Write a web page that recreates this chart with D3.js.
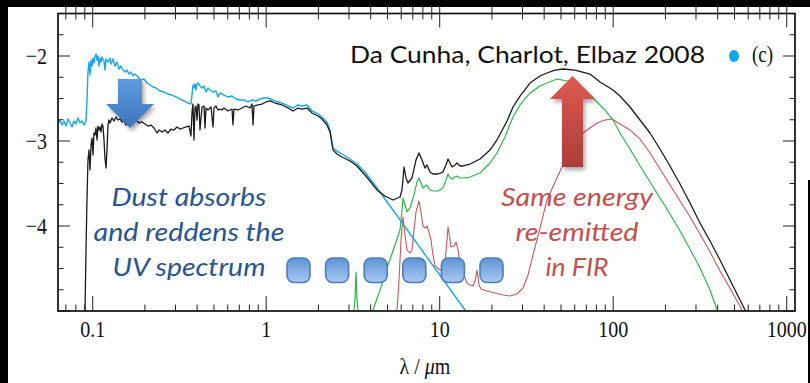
<!DOCTYPE html>
<html>
<head>
<meta charset="utf-8">
<script src="https://cdn.jsdelivr.net/npm/d3@7"></script>
<style>
  html, body { margin: 0; padding: 0; background: #fff; }
  svg { display: block; }
</style>
</head>
<body>
<svg id="chart" width="810" height="383"></svg>
<script>
// Spectral energy distribution: [wavelength (micron), log luminosity]
// Unattenuated stellar emission
const blueSED = [
  [0.0631,-2.800],[0.0648,-2.753],[0.0665,-2.812],[0.0683,-2.765],[0.0702,-2.824],[0.0721,-2.741],
  [0.0740,-2.788],[0.0760,-2.835],[0.0780,-2.765],[0.0801,-2.800],[0.0823,-2.729],[0.0845,-2.788],
  [0.0868,-2.765],[0.0891,-2.812],[0.0915,-2.765],[0.0927,-2.518],[0.0939,-2.188],[0.0952,-2.071],
  [0.0965,-2.224],[0.0978,-2.047],[0.0991,-2.118],[0.1004,-2.024],[0.1017,-2.082],[0.1031,-2.012],
  [0.1045,-1.976],[0.1059,-2.047],[0.1073,-2.000],[0.1087,-2.118],[0.1102,-2.024],[0.1116,-2.071],
  [0.1131,-2.012],[0.1162,-2.059],[0.1177,-2.165],[0.1193,-2.035],[0.1225,-2.071],[0.1258,-2.024],
  [0.1275,-2.094],[0.1309,-2.035],[0.1344,-2.118],[0.1380,-2.071],[0.1417,-2.153],[0.1456,-2.118],
  [0.1495,-2.165],[0.1535,-2.188],[0.1576,-2.165],[0.1618,-2.212],[0.1662,-2.188],[0.1707,-2.235],
  [0.1754,-2.212],[0.1825,-2.247],[0.1898,-2.282],[0.1975,-2.271],[0.2056,-2.318],[0.2140,-2.341],
  [0.2227,-2.365],[0.2317,-2.376],[0.2443,-2.412],[0.2576,-2.424],[0.2716,-2.447],[0.2864,-2.459],
  [0.3020,-2.482],[0.3185,-2.506],[0.3359,-2.529],[0.3541,-2.553],[0.3686,-2.565],[0.3735,-2.459],
  [0.3785,-2.341],[0.3835,-2.376],[0.3886,-2.329],[0.3938,-2.400],[0.3991,-2.329],[0.4044,-2.318],
  [0.4153,-2.353],[0.4265,-2.376],[0.4380,-2.353],[0.4498,-2.424],[0.4619,-2.376],[0.4743,-2.400],
  [0.4936,-2.424],[0.5136,-2.412],[0.5274,-2.482],[0.5416,-2.435],[0.5711,-2.459],[0.6023,-2.482],
  [0.6352,-2.471],[0.6699,-2.506],[0.7064,-2.518],[0.7450,-2.518],[0.7855,-2.541],[0.8283,-2.518],
  [0.8735,-2.529],[0.9211,-2.506],[0.9712,-2.494],[1.024,-2.494],[1.124,-2.529],[1.233,-2.553],
  [1.336,-2.588],[1.427,-2.612],[1.525,-2.576],[1.609,-2.588],[1.719,-2.576],[1.836,-2.647],
  [1.989,-2.682],[2.097,-2.718],[2.241,-2.776],[2.332,-2.871],[2.427,-3.082],[2.559,-3.118],
  [2.735,-3.153],[3.041,-3.212],[3.337,-3.271],[3.711,-3.365],[4.352,-3.553],[13.99,-4.988],
  [14.95,-5.071]
];

// Total emission after dust attenuation and re-emission
const blackSED = [
  [0.0903,-5.012],[0.0915,-4.282],[0.0927,-3.694],[0.0939,-3.224],[0.0952,-3.106],[0.0965,-3.341],
  [0.0978,-3.047],[0.0991,-2.965],[0.1004,-3.165],[0.1017,-2.906],[0.1031,-2.929],[0.1045,-2.847],
  [0.1059,-2.988],[0.1073,-2.824],[0.1087,-2.871],[0.1102,-2.835],[0.1116,-2.894],[0.1131,-2.800],
  [0.1146,-2.824],[0.1162,-2.988],[0.1177,-3.200],[0.1193,-3.318],[0.1209,-3.106],[0.1225,-2.812],
  [0.1242,-2.753],[0.1258,-2.788],[0.1292,-2.729],[0.1327,-2.765],[0.1362,-2.718],[0.1399,-2.753],
  [0.1436,-2.741],[0.1475,-2.776],[0.1515,-2.765],[0.1555,-2.812],[0.1597,-2.800],[0.1640,-2.776],
  [0.1707,-2.765],[0.1777,-2.753],[0.1849,-2.788],[0.1923,-2.776],[0.2001,-2.800],[0.2084,-2.824],
  [0.2168,-2.812],[0.2256,-2.847],[0.2348,-2.906],[0.2410,-2.871],[0.2509,-2.894],[0.2610,-2.871],
  [0.2716,-2.906],[0.2826,-2.859],[0.2941,-2.871],[0.3061,-2.835],[0.3185,-2.859],[0.3315,-2.847],
  [0.3449,-2.835],[0.3589,-2.824],[0.3637,-2.882],[0.3686,-2.941],[0.3735,-2.659],[0.3785,-2.565],
  [0.3835,-2.988],[0.3886,-2.612],[0.3938,-2.588],[0.3991,-2.753],[0.4044,-2.565],[0.4098,-2.576],
  [0.4153,-2.871],[0.4265,-2.600],[0.4380,-2.588],[0.4438,-2.847],[0.4498,-2.612],[0.4619,-2.635],
  [0.4743,-2.612],[0.4807,-2.600],[0.4936,-2.835],[0.5002,-2.612],[0.5136,-2.588],[0.5274,-2.635],
  [0.5416,-2.624],[0.5562,-2.635],[0.5711,-2.612],[0.6023,-2.647],[0.6352,-2.624],[0.6437,-2.812],
  [0.6522,-2.624],[0.6879,-2.635],[0.7255,-2.612],[0.7650,-2.588],[0.8066,-2.612],[0.8283,-2.565],
  [0.8394,-2.812],[0.8506,-2.588],[0.8970,-2.576],[0.9458,-2.565],[0.9974,-2.541],[1.052,-2.529],
  [1.124,-2.553],[1.233,-2.576],[1.336,-2.612],[1.427,-2.647],[1.525,-2.612],[1.609,-2.624],
  [1.719,-2.612],[1.836,-2.671],[1.989,-2.706],[2.097,-2.741],[2.241,-2.812],[2.332,-2.894],
  [2.427,-3.106],[2.559,-3.153],[2.735,-3.188],[3.041,-3.235],[3.337,-3.294],[3.711,-3.400],
  [4.352,-3.576],[4.838,-3.647],[5.382,-3.694],[5.906,-3.659],[6.064,-3.576],[6.227,-3.306],
  [6.394,-3.435],[6.565,-3.494],[6.922,-3.435],[7.300,-3.224],[7.596,-3.141],[7.905,-3.224],
  [8.226,-3.318],[8.447,-3.282],[8.790,-3.365],[9.147,-3.388],[9.777,-3.388],[10.44,-3.365],
  [10.87,-3.282],[11.17,-3.212],[11.47,-3.259],[11.78,-3.306],[12.25,-3.282],[12.58,-3.259],
  [13.09,-3.294],[13.62,-3.294],[14.95,-3.271],[17.08,-3.212],[19.49,-3.106],[21.39,-2.988],
  [24.44,-2.765],[26.46,-2.600],[29.03,-2.471],[33.15,-2.318],[37.85,-2.235],[41.53,-2.200],
  [46.18,-2.165],[51.38,-2.153],[60.23,-2.165],[73.48,-2.212],[83.91,-2.306],[99.74,-2.400],
  [109.4,-2.471],[125.0,-2.600],[142.7,-2.753],[162.9,-2.906],[186.1,-3.094],[212.5,-3.294],
  [242.7,-3.506],[277.2,-3.729],[316.4,-3.965],[361.4,-4.176],[412.7,-4.400],[484.0,-4.682],
  [574.9,-4.988],[614.4,-5.106]
];

// Dust emission from stellar birth clouds
const greenSED = [
  [3.164,-5.106],[3.249,-4.871],[3.293,-4.541],[3.337,-4.871],[3.427,-5.106],[3.966,-5.106],
  [4.127,-4.988],[4.528,-4.753],[5.035,-4.459],[5.526,-4.224],[5.906,-4.047],[6.064,-3.812],
  [6.145,-3.671],[6.310,-3.753],[6.478,-3.835],[6.741,-3.788],[7.109,-3.635],[7.397,-3.482],
  [7.596,-3.435],[7.800,-3.494],[8.010,-3.553],[8.447,-3.518],[8.790,-3.576],[9.147,-3.588],
  [9.777,-3.588],[10.44,-3.553],[10.87,-3.459],[11.17,-3.388],[11.47,-3.435],[11.78,-3.447],
  [12.25,-3.424],[12.58,-3.412],[13.09,-3.435],[13.62,-3.435],[14.95,-3.424],[17.08,-3.376],
  [19.49,-3.259],[21.39,-3.141],[23.79,-2.953],[25.43,-2.800],[26.46,-2.718],[29.03,-2.576],
  [33.15,-2.435],[37.85,-2.353],[41.53,-2.318],[47.43,-2.271],[54.89,-2.294],[64.36,-2.365],
  [73.48,-2.459],[80.64,-2.541],[89.68,-2.635],[99.74,-2.753],[109.4,-2.906],[125.0,-3.094],
  [142.7,-3.294],[162.9,-3.482],[186.1,-3.671],[212.5,-3.859],[242.7,-4.059],[277.2,-4.271],
  [316.4,-4.494],[361.4,-4.753],[396.6,-4.988],[423.7,-5.129]
];

// Dust emission from the ambient interstellar medium
const redSED = [
  [5.526,-5.106],[5.674,-4.988],[5.829,-4.635],[5.985,-4.165],[6.145,-3.894],[6.310,-4.106],
  [6.478,-4.282],[6.741,-4.318],[6.922,-4.282],[7.109,-4.047],[7.300,-3.835],[7.596,-3.706],
  [7.800,-3.835],[8.010,-4.000],[8.226,-4.024],[8.447,-4.000],[8.674,-4.071],[8.907,-4.165],
  [9.147,-4.341],[9.395,-4.471],[10.04,-4.518],[10.44,-4.494],[10.73,-4.424],[11.02,-4.165],
  [11.17,-4.012],[11.47,-4.165],[11.62,-4.247],[12.09,-4.235],[12.42,-4.188],[12.75,-4.282],
  [13.09,-4.424],[13.62,-4.553],[14.37,-4.671],[14.95,-4.694],[15.56,-4.706],[15.97,-4.647],
  [16.41,-4.518],[16.85,-4.694],[17.30,-4.741],[18.74,-4.765],[20.83,-4.788],[23.17,-4.812],
  [25.43,-4.824],[27.90,-4.800],[30.21,-4.729],[32.29,-4.576],[34.50,-4.341],[37.85,-4.024],
  [41.53,-3.694],[46.18,-3.482],[50.71,-3.306],[56.37,-3.129],[66.98,-2.906],[80.64,-2.788],
  [89.68,-2.753],[98.42,-2.741],[109.4,-2.800],[125.0,-2.871],[142.7,-2.976],[162.9,-3.141],
  [186.1,-3.329],[212.5,-3.518],[242.7,-3.706],[277.2,-3.894],[316.4,-4.094],[361.4,-4.306],
  [412.7,-4.529],[477.5,-4.753],[552.6,-4.988],[590.4,-5.106]
];

const xTickValues = [0.1, 1, 10, 100, 1000];
const xTickLabels = ["0.1", "1", "10", "100", "1000"];
const yTickValues = [-4, -3, -2];
const yTickLabels = ["\u22124", "\u22123", "\u22122"];

const titleText = "Da Cunha, Charlot, Elbaz 2008";
const panelTag = "(c)";
const dustNote = ["Dust absorbs", "and reddens the", "UV spectrum"];
const firNote = ["Same energy", "re-emitted", "in FIR"];

// ---------------------------------------------------------------
const svg = d3.select("#chart");
const L = 58, R = 795, T = 13.5, B = 311;

const x = d3.scaleLog().domain([Math.pow(10, -1.2), Math.pow(10, 3.0478)]).range([L, R]);
const y = d3.scaleLinear().domain([-5, -1.5]).range([B, T]);

const defs = svg.append("defs");
defs.append("clipPath").attr("id", "plotClip")
  .append("rect").attr("x", L).attr("y", T).attr("width", R - L).attr("height", B - T);

const shadow = defs.append("filter").attr("id", "shadow")
  .attr("x", "-30%").attr("y", "-30%").attr("width", "160%").attr("height", "160%");
shadow.append("feDropShadow").attr("dx", 2).attr("dy", 3).attr("stdDeviation", 2)
  .attr("flood-color", "#000").attr("flood-opacity", 0.35);

function vGrad(id, stops) {
  const g = defs.append("linearGradient").attr("id", id)
    .attr("x1", 0).attr("y1", 0).attr("x2", 0).attr("y2", 1);
  stops.forEach(([o, c]) => g.append("stop").attr("offset", o).attr("stop-color", c));
}
vGrad("blueArrow", [[0, "#5d9be0"], [1, "#3e74b8"]]);
vGrad("redArrow", [[0, "#dc5a4f"], [1, "#ad3d38"]]);
vGrad("chip", [[0, "#5f93d6"], [1, "#a9c8f1"]]);

svg.append("rect").attr("width", 810).attr("height", 383).attr("fill", "#fff");

// Curves
const line = d3.line().x(d => x(d[0])).y(d => y(d[1]));
const curves = svg.append("g").attr("clip-path", "url(#plotClip)")
  .attr("fill", "none").attr("stroke-linejoin", "round");

curves.append("path").datum(redSED).attr("d", line).attr("stroke", "#c8565a").attr("stroke-width", 1.1);
curves.append("path").datum(greenSED).attr("d", line).attr("stroke", "#2fb64f").attr("stroke-width", 1.2);
curves.append("path").datum(blueSED).attr("d", line).attr("stroke", "#18a6e4").attr("stroke-width", 1.4);
curves.append("path").datum(blackSED).attr("d", line).attr("stroke", "#1b1b1b").attr("stroke-width", 1.3);

// Ticks
const ticks = svg.append("g").attr("stroke", "#222").attr("stroke-width", 1);
const xMinor = [];
for (let d = -2; d <= 3; d++) {
  for (let k = 1; k <= 9; k++) {
    const v = k * Math.pow(10, d);
    if (v >= x.domain()[0] && v <= x.domain()[1]) xMinor.push({ v, major: k === 1 });
  }
}
ticks.selectAll("line.xb").data(xMinor).join("line")
  .attr("x1", d => x(d.v)).attr("x2", d => x(d.v))
  .attr("y1", B).attr("y2", d => B - (d.major ? 15 : 6.5));
ticks.selectAll("line.xt").data(xMinor).join("line")
  .attr("x1", d => x(d.v)).attr("x2", d => x(d.v))
  .attr("y1", 7).attr("y2", d => T + (d.major ? 14 : 6));

const yAll = d3.range(-5, -1.49, 0.25).map(v => ({ v, major: Math.abs(v - Math.round(v)) < 1e-6 }));
ticks.selectAll("line.yl").data(yAll).join("line")
  .attr("x1", L).attr("x2", d => L + (d.major ? 12 : 5.5))
  .attr("y1", d => y(d.v)).attr("y2", d => y(d.v));
ticks.selectAll("line.yr").data(yAll).join("line")
  .attr("x1", R).attr("x2", d => R - (d.major ? 12 : 5.5))
  .attr("y1", d => y(d.v)).attr("y2", d => y(d.v));

// Frame
svg.append("rect").attr("x", L).attr("y", T).attr("width", R - L).attr("height", B - T)
  .attr("fill", "none").attr("stroke", "#111").attr("stroke-width", 1.7);

// Tick labels (serif, slightly tall)
const serif = "'Liberation Serif', 'DejaVu Serif', serif";
svg.append("g").selectAll("text").data(xTickValues).join("text")
  .attr("transform", d => `translate(${x(d)},337) scale(1,1.2)`)
  .attr("text-anchor", "middle").attr("font-family", serif).attr("font-size", 20).attr("fill", "#111")
  .text((d, i) => xTickLabels[i]);
svg.append("g").selectAll("text").data(yTickValues).join("text")
  .attr("transform", d => `translate(47,${y(d) + 8}) scale(1,1.2)`)
  .attr("text-anchor", "end").attr("font-family", serif).attr("font-size", 20).attr("fill", "#111")
  .text((d, i) => yTickLabels[i]);

// Axis title
const xt = svg.append("text").attr("transform", "translate(425,374) scale(1,1.2)")
  .attr("text-anchor", "middle").attr("font-family", serif).attr("font-size", 20).attr("fill", "#111");
xt.append("tspan").text("\u03bb / ");
xt.append("tspan").attr("font-style", "italic").text("\u03bc");
xt.append("tspan").text("m");

// Title and panel tag
svg.append("text").attr("x", 350).attr("y", 63)
  .attr("font-family", "Lato, 'Open Sans', sans-serif").attr("font-size", 23).attr("fill", "#111")
  .attr("textLength", 355).attr("lengthAdjust", "spacingAndGlyphs").text(titleText);
svg.append("ellipse").attr("cx", 734).attr("cy", 56).attr("rx", 5).attr("ry", 6).attr("fill", "#0aa6ea");
svg.append("text").attr("transform", "translate(752,62) scale(1,1.2)")
  .attr("font-family", serif).attr("font-size", 19).attr("fill", "#111").text(panelTag);

// Arrows
svg.append("path")
  .attr("d", "M118,79 L142,79 L142,104 L154,104 L130,128 L106,104 L118,104 Z")
  .attr("fill", "url(#blueArrow)").attr("filter", "url(#shadow)");
svg.append("path")
  .attr("d", "M572.5,76 L595,99 L583,99 L583,167 L562,167 L562,99 L550,99 Z")
  .attr("fill", "url(#redArrow)").attr("filter", "url(#shadow)");

// Rounded chips
const chips = d3.range(6).map(i => 298.5 + i * 38.6);
svg.append("g").selectAll("rect").data(chips).join("rect")
  .attr("x", d => d - 11.5).attr("y", 258).attr("width", 23).attr("height", 24.5)
  .attr("rx", 7).attr("ry", 7)
  .attr("fill", "url(#chip)").attr("stroke", "#4a7dbd").attr("stroke-width", 1.6);

// Annotations
const sans = "Lato, 'Open Sans', sans-serif";
const dustW = [155, 191, 153];
svg.append("g").selectAll("text").data(dustNote).join("text")
  .attr("x", 189).attr("y", (d, i) => 206 + i * 35)
  .attr("text-anchor", "middle").attr("font-family", sans).attr("font-style", "italic")
  .attr("font-size", 25).attr("fill", "#2a548f")
  .attr("textLength", (d, i) => dustW[i]).attr("lengthAdjust", "spacingAndGlyphs")
  .text(d => d);
const firW = [152, 123, 63];
svg.append("g").selectAll("text").data(firNote).join("text")
  .attr("x", 577).attr("y", (d, i) => 206 + i * 34.8)
  .attr("text-anchor", "middle").attr("font-family", sans).attr("font-style", "italic")
  .attr("font-size", 25).attr("fill", "#c4504e")
  .attr("textLength", (d, i) => firW[i]).attr("lengthAdjust", "spacingAndGlyphs")
  .text(d => d);

// Dark borders of the slide
svg.append("rect").attr("x", 0).attr("y", 0).attr("width", 810).attr("height", 7).attr("fill", "#000");
svg.append("rect").attr("x", 0).attr("y", 0).attr("width", 8).attr("height", 383).attr("fill", "#000");
svg.append("rect").attr("x", 808).attr("y", 180).attr("width", 2).attr("height", 203).attr("fill", "#000");
</script>
</body>
</html>
